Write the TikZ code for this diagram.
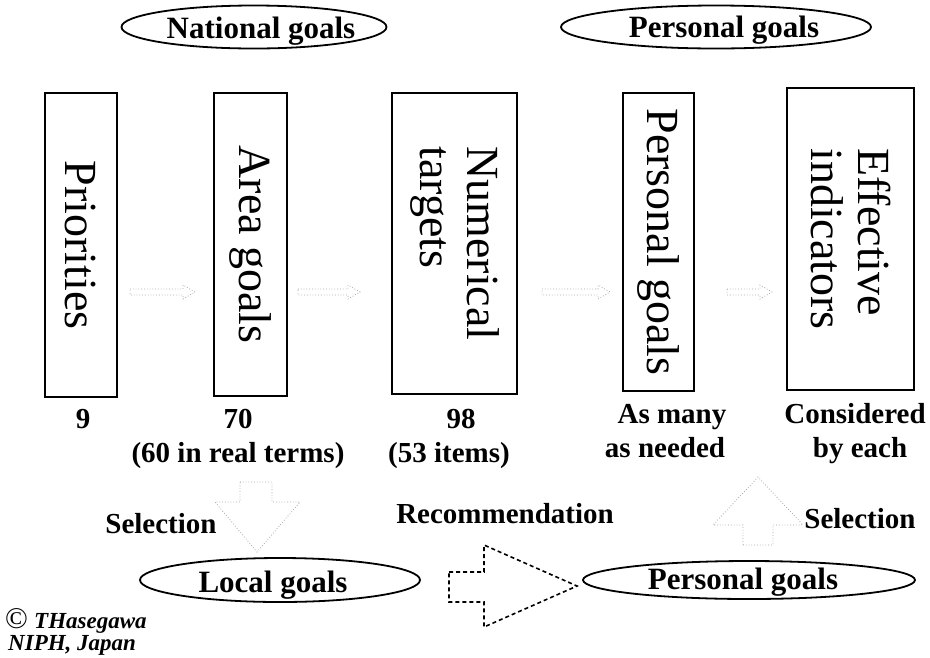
\documentclass[tikz,border=0pt]{standalone}
\usepackage{fontspec}
\setmainfont{Liberation Serif}
\usetikzlibrary{shapes.geometric}
\tikzset{
 vbox/.style={draw, line width=1.6pt, rotate=-90, inner sep=0pt, align=left, font=\fontsize{46}{47}\selectfont},
 goalell/.style={ellipse, draw, line width=1.8pt, inner sep=0pt},
 ellab/.style={anchor=base, inner sep=0pt, font=\bfseries\fontsize{31}{31}\selectfont},
 lab/.style={anchor=base, inner sep=0pt, font=\bfseries\fontsize{29}{29}\selectfont},
 faint/.style={draw=black!35, dotted, line width=0.8pt},
 bigarrow/.style={draw, line width=1.6pt, dash pattern=on 4pt off 3pt},
 credit/.style={anchor=base west, inner sep=0pt, font=\bfseries\itshape\fontsize{23}{23}\selectfont},
}
\newcommand\fArrow[3]{%
 \draw[faint] (#1,#3-3) -- (#2-12,#3-3) -- (#2-12,#3-7) -- (#2,#3) -- (#2-12,#3+7) -- (#2-12,#3+3) -- (#1,#3+3) -- cycle;}
\begin{document}
\begin{tikzpicture}[x=1pt,y=-1pt]
\useasboundingbox (0,0) rectangle (930,657);
% top ellipses
\node[goalell, minimum width=265, minimum height=43] (natg) at (254,27) {};
\node[ellab] (natgt) at (261,38) {National goals};
\node[goalell, minimum width=310, minimum height=43] (pertop) at (716,27) {};
\node[ellab] (pertopt) at (724,37) {Personal goals};
% boxes
\node[vbox, minimum width=304, minimum height=72] (pri) at (81,245) {Priorities};
\node[vbox, minimum width=303, minimum height=73] (area) at (250.5,244.5) {Area goals};
\node[vbox, minimum width=301, minimum height=125] (num) at (454.5,243.5) {Numerical\\targets};
\node[vbox, minimum width=298, minimum height=71] (pers) at (658.5,242) {Personal goals};
\node[vbox, minimum width=302, minimum height=127] (eff) at (850.5,239) {Effective\\indicators};
% faint arrows between boxes
\fArrow{130}{195}{292}
\fArrow{298}{360}{292}
\fArrow{542}{610}{292}
\fArrow{727}{772}{292}
% labels under boxes
\node[lab] (n9) at (83,428) {9};
\node[lab] (n70) at (238,428) {70};
\node[lab] (n60) at (238,462) {(60 in real terms)};
\node[lab] (n98) at (461,428) {98};
\node[lab] (n53) at (449,462) {(53 items)};
\node[lab] (many) at (672,423) {As many};
\node[lab] (needed) at (665,457) {as needed};
\node[lab] (cons) at (855,423) {Considered};
\node[lab] (byeach) at (860,457) {by each};
% selection arrows
\draw[faint] (240,482) -- (272,482) -- (272,502) -- (300,502) -- (257,552) -- (215,502) -- (240,502) -- cycle;
\draw[faint] (743,545) -- (773,545) -- (773,525) -- (803,525) -- (758,477) -- (713,525) -- (743,525) -- cycle;
\node[lab] (selL) at (161,533) {Selection};
\node[lab] (selR) at (860,528) {Selection};
\node[lab] (rec) at (505,523) {Recommendation};
% bottom ellipses
\node[goalell, minimum width=280, minimum height=44] (loc) at (280,580) {};
\node[ellab] (loct) at (273,592) {Local goals};
\node[goalell, minimum width=332, minimum height=38] (perbot) at (749,580) {};
\node[ellab] (perbott) at (743,589) {Personal goals};
% big dashed arrow
\draw[bigarrow] (449,572) -- (484,572) -- (484,545) -- (577,586) -- (484,627) -- (484,602) -- (449,602) -- cycle;
% credit
\node[anchor=base west, inner sep=0pt, font=\fontsize{30}{30}\selectfont] (copy) at (5,628) {\textcopyright};
\node[credit] (cr1) at (34,628) {THasegawa};
\node[credit] (cr2) at (8,650) {NIPH, Japan};
\end{tikzpicture}
\end{document}
